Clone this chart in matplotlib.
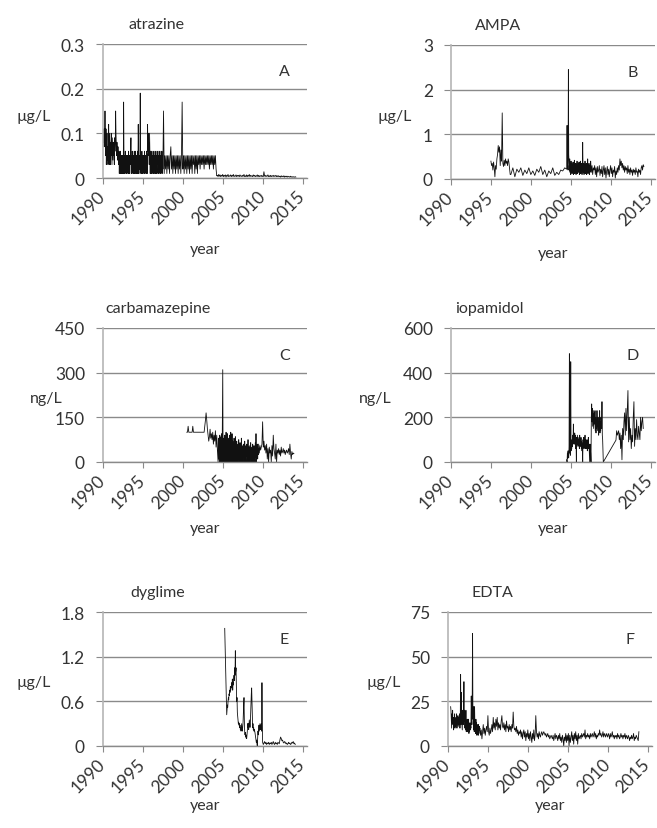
import numpy as np
import matplotlib.pyplot as plt

plt.rcParams['font.family'] = ['Lato', 'DejaVu Sans']

# ---- data, each block: start year, samples per year, values ----
atrazine_1990 = [0.07, 0.10, 0.08, 0.11, 0.07, 0.10, 0.15, 0.09, 0.05, 0.11, 0.03, 0.08,
                 0.10, 0.04, 0.07, 0.03, 0.09, 0.12, 0.05, 0.03, 0.10, 0.06, 0.03, 0.08,
                 0.05, 0.10, 0.07, 0.03, 0.09, 0.06, 0.04, 0.08, 0.05, 0.07, 0.03, 0.09,
                 0.06, 0.08, 0.15, 0.10, 0.07, 0.05, 0.08, 0.06, 0.04, 0.07, 0.05, 0.03]
atrazine_1992 = [0.06, 0.01, 0.05, 0.02, 0.06, 0.01, 0.05, 0.01, 0.05, 0.03, 0.05, 0.01,
                 0.05, 0.01, 0.17, 0.05, 0.01, 0.05, 0.01, 0.06, 0.02, 0.05, 0.01, 0.05,
                 0.01, 0.05, 0.02, 0.05, 0.01, 0.06, 0.01, 0.05, 0.01, 0.05, 0.03, 0.05,
                 0.09, 0.01, 0.05, 0.01, 0.06, 0.02, 0.05, 0.01, 0.05, 0.01, 0.06, 0.01,
                 0.05, 0.01, 0.06, 0.02, 0.05, 0.01, 0.05, 0.01, 0.06, 0.01, 0.12, 0.05,
                 0.01, 0.05, 0.02, 0.05, 0.19, 0.05, 0.01, 0.05, 0.01, 0.06, 0.01, 0.05,
                 0.01, 0.05, 0.02, 0.05, 0.01, 0.06, 0.01, 0.05, 0.03, 0.05, 0.01, 0.06,
                 0.05, 0.01, 0.12, 0.06, 0.10, 0.05, 0.08, 0.03, 0.10, 0.05, 0.01, 0.06,
                 0.01, 0.05, 0.01, 0.06, 0.02, 0.05, 0.01, 0.05, 0.01, 0.06, 0.01, 0.05,
                 0.02, 0.05, 0.01, 0.06, 0.01, 0.05, 0.01, 0.05, 0.03, 0.06, 0.01, 0.05,
                 0.01, 0.05, 0.02, 0.06, 0.01, 0.05, 0.01, 0.05, 0.02, 0.06, 0.01, 0.05]
atrazine_1997 = [0.02, 0.15, 0.01, 0.05, 0.02, 0.05,
                 0.01, 0.05, 0.02, 0.05, 0.01, 0.05, 0.07, 0.02, 0.05, 0.01, 0.05, 0.02,
                 0.05, 0.01, 0.05, 0.02, 0.05, 0.01, 0.05, 0.02, 0.05, 0.01, 0.05, 0.17,
                 0.02, 0.05, 0.01, 0.05, 0.02, 0.05, 0.01, 0.05, 0.02, 0.05, 0.01, 0.05,
                 0.02, 0.05, 0.01, 0.05, 0.03, 0.05, 0.01, 0.05, 0.02, 0.05, 0.01, 0.05,
                 0.03, 0.05, 0.02, 0.05, 0.03, 0.05, 0.03, 0.05, 0.02, 0.05, 0.03, 0.05,
                 0.03, 0.05, 0.03, 0.05, 0.02, 0.05, 0.03, 0.05, 0.03, 0.05, 0.02, 0.05,
                 0.03, 0.05, 0.02, 0.005]
atrazine_2004 = [0.006, 0.003, 0.008, 0.004, 0.007, 0.003, 0.006, 0.004,
                 0.008, 0.003, 0.006, 0.004, 0.007, 0.002, 0.006, 0.004, 0.008, 0.003, 0.005, 0.004,
                 0.007, 0.003, 0.006, 0.004, 0.008, 0.003, 0.005, 0.004, 0.007, 0.003, 0.006, 0.004,
                 0.006, 0.003, 0.007, 0.004, 0.005, 0.003, 0.006, 0.004, 0.008, 0.003, 0.005, 0.003,
                 0.007, 0.003, 0.006, 0.004, 0.008, 0.003, 0.006, 0.004, 0.005, 0.003, 0.007, 0.004,
                 0.006, 0.003, 0.005, 0.004, 0.007, 0.003, 0.006, 0.003, 0.005, 0.004, 0.006, 0.003,
                 0.005, 0.003, 0.014, 0.004, 0.006, 0.003, 0.005, 0.004, 0.007, 0.003, 0.005, 0.003,
                 0.006, 0.003, 0.005, 0.004, 0.006, 0.003, 0.005, 0.004, 0.006, 0.003, 0.005, 0.003,
                 0.005, 0.003, 0.004, 0.002, 0.005, 0.003, 0.004, 0.003, 0.005, 0.002, 0.004, 0.003,
                 0.004, 0.002, 0.004, 0.003, 0.003, 0.002, 0.004, 0.002, 0.003, 0.002, 0.003, 0.002,
                 0.002, 0.003, 0.002]

ampa_1995 = [0.40, 0.30, 0.35, 0.20, 0.38, 0.25, 0.05, 0.30, 0.22, 0.45, 0.55, 0.75,
             0.60, 0.72, 0.30, 0.65, 0.40, 1.48, 0.35, 0.28, 0.42, 0.30, 0.45, 0.35,
             0.40, 0.30, 0.45, 0.38, 0.25, 0.10]
ampa_1997 = [0.10, 0.25, 0.05, 0.22, 0.15, 0.25, 0.08, 0.20, 0.12, 0.25, 0.10, 0.18, 0.08, 0.22,
             0.15, 0.28, 0.10, 0.20, 0.05, 0.18, 0.12, 0.25, 0.08, 0.15, 0.10, 0.20, 0.18, 0.25]
ampa_2004 = [0.22, 1.20, 0.25, 0.30, 0.20, 2.45, 0.55, 0.35, 0.20, 0.45, 0.15, 0.35,
             0.10, 0.40, 0.18, 0.35, 0.12, 0.30, 0.20, 0.38, 0.10, 0.28, 0.15, 0.42,
             0.12, 0.30, 0.18, 0.35, 0.10, 0.25, 0.15, 0.40, 0.12, 0.30, 0.20, 0.35,
             0.15, 0.38, 0.10, 0.30, 0.18, 0.40, 0.12, 0.32, 0.20, 0.35, 0.10, 0.28,
             0.82, 0.20, 0.15, 0.35, 0.10, 0.30, 0.15, 0.40, 0.12, 0.28, 0.18, 0.35,
             0.10, 0.30, 0.15, 0.45, 0.12, 0.28, 0.20, 0.35, 0.10, 0.30, 0.15, 0.25]
ampa_2007 = [0.40, 0.15, 0.30, 0.10, 0.25, 0.20,
             0.30, 0.10, 0.25, 0.05, 0.28, 0.15, 0.20, 0.30, 0.08, 0.22, 0.12, 0.28,
             0.05, 0.20, 0.30, 0.10, 0.25, 0.02, 0.18, 0.28, 0.10, 0.22, 0.05, 0.20,
             0.30, 0.12, 0.25, 0.05, 0.20, 0.15, 0.28, 0.02, 0.18, 0.10, 0.25, 0.15,
             0.30, 0.20, 0.45, 0.30, 0.40, 0.25, 0.35, 0.20, 0.30, 0.15, 0.28, 0.20,
             0.25, 0.12, 0.30, 0.15, 0.22, 0.10, 0.25, 0.15, 0.20, 0.08, 0.22, 0.15,
             0.20, 0.10, 0.25, 0.15, 0.18, 0.05, 0.22, 0.15, 0.20, 0.10, 0.25, 0.30,
             0.20, 0.32, 0.28]

carba_2000 = [100, 100, 120, 100, 100, 100,
              100, 100, 100, 120, 100, 100, 100, 100, 100, 100, 100, 100,
              100, 100, 100, 100, 100, 100, 100, 100, 100, 120, 140, 165,
              140, 110, 90, 70, 85, 110, 80, 95, 75, 100, 60, 90,
              70, 105, 50, 90, 40]
carba_2004 = [0, 80, 10, 70, 0, 90, 20, 75, 0, 85, 10, 95, 0, 140,
              310, 0, 80, 10, 75, 0, 90, 20, 70, 0, 100, 15, 85, 0, 95, 10, 80, 0, 70, 20, 90, 0, 75, 10,
              100, 0, 85, 15, 95, 0, 70, 10, 60, 0, 80, 20, 50, 0, 85, 10, 40, 0, 70, 15, 55, 0, 60, 10,
              75, 0, 50, 20, 65, 0, 45, 10, 80, 0, 55, 15, 40, 0, 60, 20, 50, 0, 70, 10, 45, 0, 55, 20,
              60, 0, 45, 15, 75, 0, 50, 20, 40, 0, 55, 10, 65, 0, 45, 20, 50, 0, 60, 15, 40, 0, 55, 20,
              50, 0, 65, 15, 95, 0, 50, 20, 60, 10, 45, 25]
carba_2009 = [60, 30, 55, 40, 50, 60,
              135, 50, 70, 40, 55, 30, 60, 10, 45, 0, 50, 30,
              40, 0, 55, 20, 90, 45, 30, 10, 60, 0, 40, 30,
              45, 25, 40, 20, 50, 30, 35, 45, 30, 40, 25, 35,
              40, 30, 35, 45, 25, 60, 30, 10, 35, 25, 30, 28]

iopa_2004 = [10, 0, 40, 15, 50, 30, 20, 70, 485, 40, 60, 30,
             449, 50, 90, 60, 100, 70, 120, 80, 170, 90, 110, 80, 130, 90, 120, 60, 100, 0, 110, 80, 120, 90, 70, 100,
             80, 110, 60, 120, 90, 100, 70, 110, 60, 90, 50, 80, 0, 100, 70, 110, 60, 90, 80, 120, 60, 100, 70, 90,
             60, 100, 50, 90, 70, 110, 60, 80, 40, 0, 80, 60, 40, 0, 200, 260, 180, 240, 160, 200, 230, 150, 180, 220,
             170, 230, 140, 200, 130, 190, 150, 230, 160, 200, 140, 180, 120, 200, 150, 230, 130, 180, 140, 200, 180, 150, 270, 120,
             100, 50, 0]
iopa_2010 = [98, 140, 120, 130,
             140, 100, 130, 60, 120, 10, 150, 100, 180, 220, 120, 240,
             140, 230, 320, 90, 200, 100, 150, 60, 120, 90, 200, 270,
             70, 150, 100, 190, 120, 100, 160, 130, 100, 200, 140, 180,
             200, 150]

dyg_2005 = [1.58]
dyg_2005b = [0.42, 0.48, 0.55, 0.52, 0.60, 0.65, 0.62, 0.70, 0.68, 0.75, 0.72, 0.80,
             0.75, 0.80, 0.78, 0.85, 0.80, 0.90, 0.75, 0.85, 0.82, 0.90, 0.95, 0.88,
             1.05, 0.95, 1.28, 1.00, 1.05, 0.85, 0.60, 0.65, 0.45, 0.40, 0.35, 0.30,
             0.32, 0.28, 0.30, 0.25, 0.28, 0.22, 0.25, 0.20, 0.25, 0.30, 0.22, 0.20,
             0.25, 0.30, 0.45, 0.55, 0.65, 0.35, 0.20, 0.15, 0.18, 0.12, 0.15, 0.10,
             0.10, 0.15, 0.20, 0.30, 0.25, 0.30, 0.22, 0.28, 0.35, 0.30, 0.25, 0.30,
             0.45, 0.60, 0.70, 0.78, 0.60, 0.40, 0.25, 0.30, 0.22, 0.25, 0.20, 0.22,
             0.20, 0.18, 0.15, 0.12, 0.10, 0.05, 0.08, 0.03, 0.00, 0.10, 0.20, 0.15,
             0.22, 0.28, 0.20, 0.25, 0.30, 0.22, 0.28, 0.25, 0.30, 0.20, 0.85, 0.30]
dyg_2010 = [0.05, 0.02, 0.04, 0.06, 0.03, 0.05, 0.02, 0.04, 0.03, 0.05, 0.02, 0.04,
            0.03, 0.05, 0.02, 0.04, 0.06, 0.03, 0.02, 0.05, 0.03, 0.04, 0.02, 0.05,
            0.04, 0.03, 0.08, 0.12, 0.10, 0.07, 0.08, 0.05, 0.04, 0.06, 0.05, 0.03,
            0.04, 0.02, 0.03, 0.05, 0.03, 0.04, 0.02, 0.03, 0.05, 0.04, 0.06, 0.03,
            0.04, 0.02]

edta_1990 = [22, 20, 15, 10, 18, 13, 20, 12, 16, 9, 15, 12, 18, 10, 14, 11,
             16, 12, 18, 10, 15, 13, 17, 11, 14, 16, 12, 18, 10, 15, 40, 12, 30, 16, 13, 9, 20, 14, 12, 18,
             36, 14, 20, 10, 18, 9, 20, 8, 14, 10, 15, 8, 12, 9, 15, 7, 11, 8, 13, 9, 12, 10, 28, 15,
             12, 30, 63, 15, 22, 9, 18, 8, 22, 10, 14, 7, 15, 9, 13, 6, 12, 8, 10, 6, 12, 7, 11, 9]
edta_1994 = [10, 6, 9, 4, 8, 12, 7, 10, 6, 9, 11, 8,
             17, 8, 6, 10, 7, 9, 12, 8, 16, 10, 13, 9,
             15, 11, 16, 9, 13, 10, 12, 9, 14, 17, 11, 10,
             13, 9, 12, 8, 14, 10, 11, 8, 12, 9, 11, 8,
             12, 10, 19, 11, 9, 10, 8, 11, 7, 9, 6, 8,
             7, 9, 5, 8, 4, 7, 9, 5, 8, 3, 7, 5,
             9, 4, 7, 3, 8, 5, 2, 7, 4, 9, 3, 6,
             17, 8, 5, 7, 4, 8, 6, 5, 7, 8, 6, 7,
             8, 7, 6, 7, 5, 6, 7, 5, 6, 4, 5, 6,
             5, 4, 6, 3, 5, 7, 4, 6, 5, 3, 6, 4,
             7, 3, 5, 2, 6, 4, 0, 5, 3, 7, 2, 6,
             3, 7, 0, 6, 2, 5, 8, 3, 6, 1, 7, 4,
             8, 3, 6, 1, 7, 4, 5, 6, 4, 7, 5, 6,
             7, 5, 9, 4, 6, 5, 7, 5, 6, 4, 7, 5,
             6, 7, 5, 6, 8, 5, 7, 4, 6, 5, 7, 6,
             9, 6, 7, 5, 6, 8, 5, 7, 6, 5, 7, 6,
             5, 7, 6, 4, 7, 5, 6, 8, 5, 6, 4, 6,
             5, 6, 4, 7, 5, 6, 4, 5, 7, 5, 6, 4,
             6, 5, 7, 4, 6, 5, 4, 6, 5, 3, 5, 4,
             6, 4, 5, 7, 3, 5, 4, 6, 5, 4, 3, 8]


def series(*blocks):
    xs, ys = [], []
    for start, per_year, vals in blocks:
        xs.append(start + np.arange(len(vals)) / per_year)
        ys.append(np.asarray(vals, dtype=float))
    return np.concatenate(xs), np.concatenate(ys)


panels = [
    # name, unit, letter, ymax, ystep, data, axes corner (px), ylabel xy, title x, xlabel y
    ("atrazine", "µg/L", "A", 0.3, 0.1,
     series((1990.0, 24, atrazine_1990), (1992.0, 24, atrazine_1992),
            (1997.5, 12, atrazine_1997), (2004.33, 12, atrazine_2004)),
     [103, 45], (-0.34, 0.46), 0.26, -0.53),
    ("AMPA", "µg/L", "B", 3, 1,
     series((1995.0, 12, ampa_1995), (1997.5, 4, ampa_1997),
            (2004.5, 24, ampa_2004), (2007.5, 12, ampa_2007)),
     [451, 46], (-0.275, 0.47), 0.23, -0.55),
    ("carbamazepine", "ng/L", "C", 450, 150,
     series((2000.5, 12, carba_2000), (2004.42, 24, carba_2004), (2009.5, 12, carba_2009)),
     [103, 329], (-0.28, 0.48), 0.27, -0.49),
    ("iopamidol", "ng/L", "D", 600, 200,
     series((2004.5, 24, iopa_2004), (2010.67, 12, iopa_2010)),
     [451, 329], (-0.37, 0.48), 0.19, -0.49),
    ("dyglime", "µg/L", "E", 1.8, 0.6,
     series((2005.25, 12, dyg_2005), (2005.5, 24, dyg_2005b), (2010.0, 12, dyg_2010)),
     [103, 613], (-0.34, 0.48), 0.268, -0.44),
    ("EDTA", "µg/L", "F", 75, 25,
     series((1990.33, 24, edta_1990), (1994.0, 12, edta_1994)),
     [448, 613], (-0.316, 0.48), 0.22, -0.44),
]

W, H = 657, 829
fig = plt.figure(figsize=(W / 100, H / 100), dpi=100)
grid_c = "#8a8a8a"
axis_c = "#b5b5b5"
txt_c = "#333333"

for name, unit, letter, ymax, ystep, (x, y), (left, top), ylab_xy, title_x, xlab_y in panels:
    aw, ah = 204, 134
    ax = fig.add_axes([left / W, 1 - (top + ah) / H, aw / W, ah / H])
    ax.plot(x, y, color="#111111", lw=0.6)
    ax.set_xlim(1990, 2015.56)
    ax.set_ylim(0, ymax)
    ax.set_xticks(range(1990, 2016, 5))
    yt = np.arange(0, ymax + ystep / 2, ystep)
    ax.set_yticks(yt)
    ax.set_yticklabels([f"{v:g}" for v in yt])
    ax.grid(axis="y", color=grid_c, lw=1.0)
    ax.set_axisbelow(True)
    for s in ("top", "right"):
        ax.spines[s].set_visible(False)
    ax.spines["left"].set_color(axis_c)
    ax.spines["bottom"].set_color(grid_c)
    ax.spines["left"].set_linewidth(1.2)
    ax.spines["bottom"].set_linewidth(1.0)
    ax.tick_params(axis="y", length=5, color=grid_c, labelsize=12.5, labelcolor=txt_c, pad=8)
    ax.tick_params(axis="x", length=4, color=grid_c, labelsize=12.5, labelcolor=txt_c, pad=7)
    for lab in ax.get_xticklabels():
        lab.set_rotation(45)
        lab.set_ha("right")
        lab.set_va("center")
        lab.set_rotation_mode("anchor")
    ax.set_ylabel(unit, rotation=0, fontsize=11.5, color=txt_c, ha="center", va="center")
    ax.yaxis.set_label_coords(*ylab_xy)
    ax.set_xlabel("year", fontsize=11.5, color=txt_c, va="center")
    ax.xaxis.set_label_coords(0.5, xlab_y)
    ax.text(title_x, 1.15, name, transform=ax.transAxes, ha="center", va="center",
            fontsize=11.5, color=txt_c)
    ax.text(0.89, 0.80, letter, transform=ax.transAxes, ha="center", va="center",
            fontsize=11.5, color=txt_c)

fig.savefig("out.png", dpi=100)
